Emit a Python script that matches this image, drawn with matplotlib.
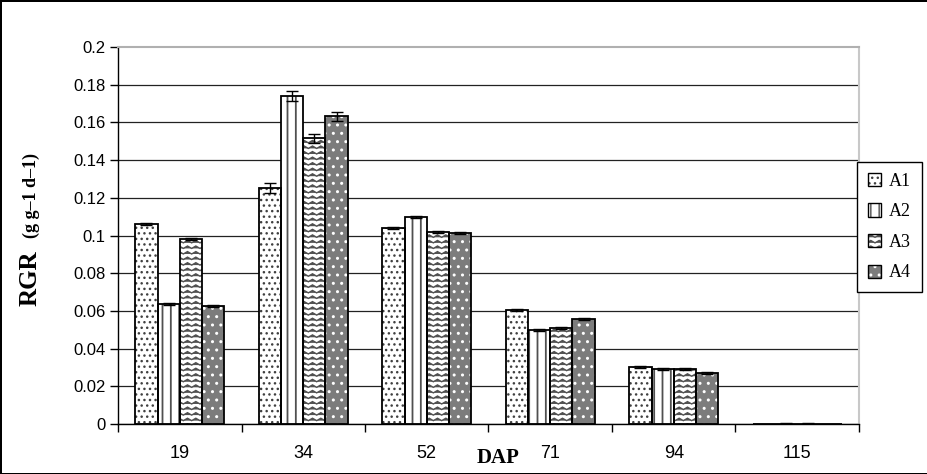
import warnings
import numpy as np
import matplotlib
matplotlib.use("Agg")
import matplotlib.pyplot as plt
from matplotlib.patches import Patch
from matplotlib.legend_handler import HandlerTuple
from matplotlib import hatch as mhatch
from matplotlib.path import Path

warnings.filterwarnings("ignore")

# --- dados ---
dap = ['19', '34', '52', '71', '94', '115']
tratamentos = ['A1', 'A2', 'A3', 'A4']
rgr = {
    'A1': [0.106, 0.1254, 0.1038, 0.0605, 0.0304, 0.0],
    'A2': [0.0635, 0.174, 0.1096, 0.0500, 0.0292, 0.0],
    'A3': [0.098, 0.1515, 0.1020, 0.0510, 0.0293, 0.0],
    'A4': [0.0626, 0.1632, 0.1015, 0.0557, 0.0269, 0.0],
}
erro = {
    'A1': [0.0005, 0.0027, 0.0005, 0.0005, 0.0005, 0.0],
    'A2': [0.0005, 0.0027, 0.0005, 0.0005, 0.0005, 0.0004],
    'A3': [0.0005, 0.0025, 0.0005, 0.0005, 0.0005, 0.0004],
    'A4': [0.0005, 0.0025, 0.0005, 0.0005, 0.0005, 0.0],
}


# hachura em zigue-zague (padrao do A3)
class ZigZagHatch(mhatch.HatchPatternBase):
    def __init__(self, hatch, density):
        self.num_lines = int(hatch.count('z') * density)
        self.picos = 12
        self.pts = 2 * self.picos + 1
        self.num_vertices = self.num_lines * self.pts

    def set_vertices_and_codes(self, vertices, codes):
        xs = np.linspace(0, 1, self.pts)
        amp = np.where(np.arange(self.pts) % 2 == 0, -0.012, 0.012)
        for i in range(self.num_lines):
            y0 = (i + 0.5) / self.num_lines
            seg = slice(i * self.pts, (i + 1) * self.pts)
            vertices[seg, 0] = xs
            vertices[seg, 1] = y0 + amp
            codes[seg] = Path.LINETO
            codes[i * self.pts] = Path.MOVETO


mhatch._hatch_types.append(ZigZagHatch)

estilos = {
    'A1': dict(fc='white', hatch='...', hc='#404040'),
    'A2': dict(fc='white', hatch='||', hc='#505050'),
    'A3': dict(fc='white', hatch='zzz', hc='#505050'),
    'A4': dict(fc='#7c7c7c', hatch='..', hc='white'),
}

fig = plt.figure(figsize=(9.28, 4.74), dpi=100)
fig.patch.set_edgecolor('black')
fig.patch.set_linewidth(2)
ax = fig.add_axes([0.1272, 0.1055, 0.7984, 0.7953])

x = np.arange(len(dap))
w = 0.18
handles = []
for k, t in enumerate(tratamentos):
    pos = x + (k - 1.5) * w
    st = estilos[t]
    plt.rcParams['hatch.linewidth'] = 1.3 if t == 'A2' else 1.0
    ax.bar(pos, rgr[t], w, color=st['fc'], hatch=st['hatch'],
           edgecolor=st['hc'], linewidth=0, zorder=2)
    ax.bar(pos, rgr[t], w, fill=False, edgecolor='black', linewidth=1.3, zorder=3)
    e = np.array(erro[t])
    m = e > 0
    ax.errorbar(pos[m], np.array(rgr[t])[m], yerr=e[m], fmt='none', ecolor='black',
                elinewidth=1, capsize=4, capthick=1, zorder=4)
    handles.append((Patch(facecolor=st['fc'], hatch=st['hatch'], edgecolor=st['hc'], linewidth=0),
                    Patch(fill=False, edgecolor='black', linewidth=1)))

ax.set_xlim(-0.5, len(dap) - 0.5)
ax.set_ylim(0, 0.2)
ax.set_yticks(np.arange(0, 0.201, 0.02))
ax.set_yticklabels(['0', '0.02', '0.04', '0.06', '0.08', '0.1', '0.12', '0.14',
                    '0.16', '0.18', '0.2'])
ax.set_xticks(x)
ax.set_xticklabels(dap)
ax.set_xticks(np.arange(-0.5, len(dap), 1), minor=True)
ax.tick_params(axis='x', which='major', length=0, pad=15, labelsize=13)
ax.tick_params(axis='x', which='minor', length=6, direction='out', width=1)
ax.tick_params(axis='y', length=6, direction='out', width=1, labelsize=12, pad=3)

ax.yaxis.grid(True, color='#222222', linewidth=0.9, zorder=0)
ax.set_axisbelow(True)
ax.get_ygridlines()[-1].set_visible(False)
ax.spines['top'].set_color('#b0b0b0')
ax.spines['right'].set_color('#c8c8c8')
ax.spines['top'].set_linewidth(1.5)
ax.spines['right'].set_linewidth(1.5)
ax.spines['left'].set_linewidth(1)
ax.spines['bottom'].set_linewidth(1)

for lab in ax.get_xticklabels() + ax.get_yticklabels():
    lab.set_family('Liberation Sans')

serif = 'Liberation Serif'
fig.text(30 / 928, 1 - 278 / 474, 'RGR', rotation=90, ha='center', va='center',
         fontsize=18, fontweight='bold', family=serif)
fig.text(31 / 928, 1 - 195 / 474, '(g g\u20131 d\u20131)', rotation=90, ha='center',
         va='center', fontsize=13, fontweight='bold', family=serif)
fig.text(498 / 928, 1 - 458 / 474, 'DAP', ha='center', va='center',
         fontsize=15, fontweight='bold', family=serif)

leg = fig.legend(handles, tratamentos, handler_map={tuple: HandlerTuple(ndivide=1, pad=0)},
                 loc='upper left', bbox_to_anchor=(857 / 928, 1 - 162 / 474),
                 borderaxespad=0, frameon=True, fancybox=False, framealpha=1,
                 edgecolor='black', handlelength=0.75, handleheight=0.75,
                 handletextpad=0.4, labelspacing=0.75, borderpad=0.6,
                 prop={'family': serif, 'size': 13})
leg.get_frame().set_linewidth(1)

fig.savefig('out.png', dpi=100)
